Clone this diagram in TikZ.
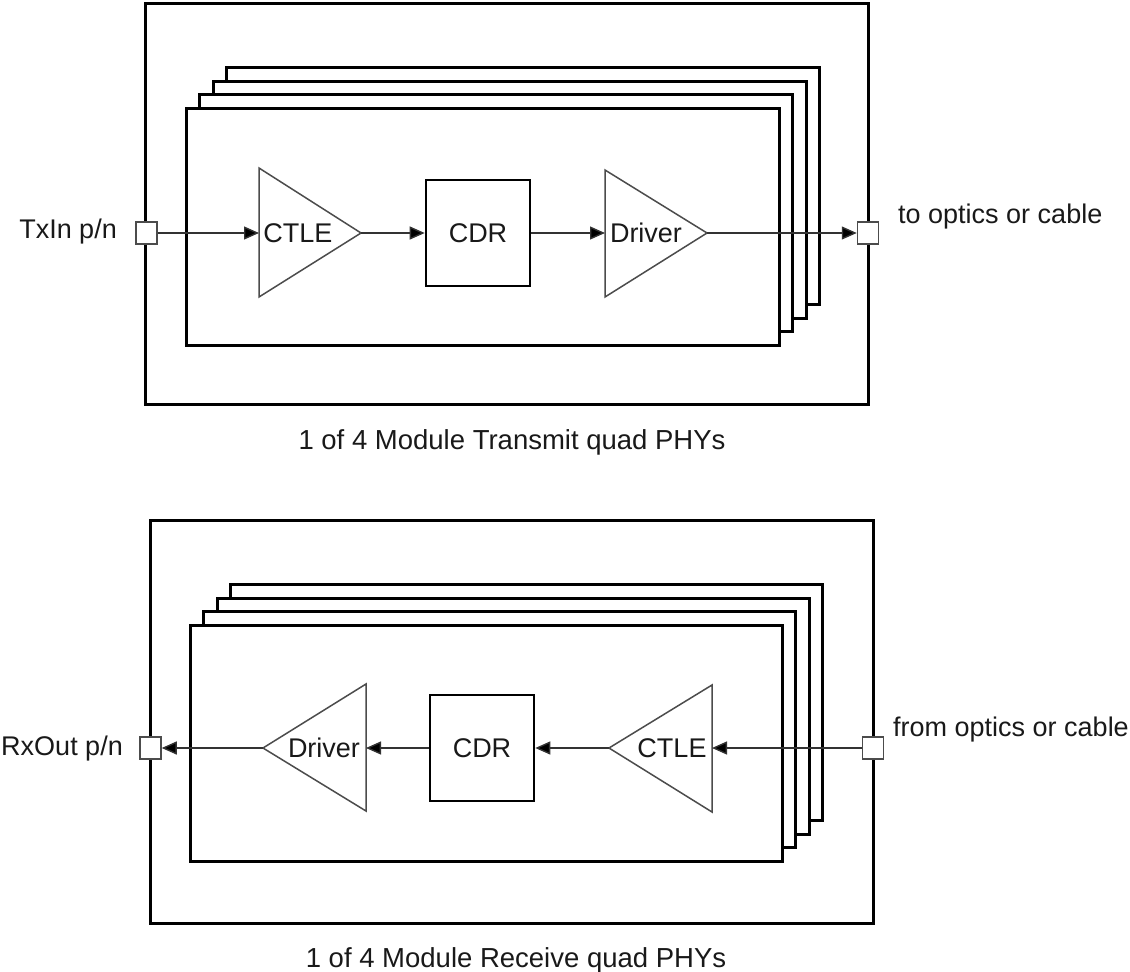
\documentclass[tikz,border=0pt]{standalone}
\usepackage{fontspec}
\setmainfont{Liberation Sans}
\usetikzlibrary{arrows.meta}
\begin{document}
\begin{tikzpicture}[x=1pt,y=-1pt,
  frame/.style={draw=black,line width=3pt,fill=white},
  tri/.style={draw=black!70,line width=1.5pt,fill=white,line join=miter},
  cdrbox/.style={draw=black,line width=2.6pt,fill=white,minimum width=104pt,minimum height=106pt,inner sep=0pt,font=\fontsize{27}{31}\selectfont,text=black!90},
  port/.style={draw=black!70,line width=1.5pt,fill=white,minimum width=21pt,minimum height=22pt,inner sep=0pt},
  lbl/.style={font=\fontsize{27}{31}\selectfont,text=black!90,inner sep=0pt},
  captxt/.style={font=\fontsize{27.5}{32}\selectfont,text=black!90,inner sep=0pt},
  sig/.style={draw=black!80,line width=1.4pt,-{Triangle[length=15pt,width=13pt,fill=black]}},
]
\useasboundingbox (0,0) rectangle (1130,972);

% ---------------- Transmit ----------------
\draw[frame] (145,3) rectangle (868,404);
\foreach \k in {3,2,1,0}
  \draw[frame] ({186+13.5*\k},{108-13.5*\k}) rectangle ({779+13.5*\k},{345-13.5*\k});

\draw[tri] (259,168) -- (361,233) -- (259,297) -- cycle;
\coordinate (tctlein) at (259,233);
\coordinate (tctleout) at (361,233);
\node[lbl] (tctlet) at (298,233) {CTLE};

\node[cdrbox] (tcdr) at (478,233) {CDR};

\draw[tri] (605,170) -- (707,233) -- (605,297) -- cycle;
\coordinate (tdrvin) at (605,233);
\coordinate (tdrvout) at (707,233);
\node[lbl] (tdrvt) at (646,233) {Driver};

\node[port] (tin) at (146.5,233) {};
\node[port] (tout) at (868,233) {};

\draw[sig] (tin.east) -- (tctlein);
\draw[sig] (tctleout) -- (tcdr.west);
\draw[sig] (tcdr.east) -- (tdrvin);
\draw[sig] (tdrvout) -- (tout.west);

\node[lbl,anchor=base east] (txin) at (117,238) {TxIn p/n};
\node[lbl,anchor=base west] (toopt) at (898,223) {to optics or cable};
\node[captxt,anchor=base] (tcap) at (512,449) {1 of 4 Module Transmit quad PHYs};

% ---------------- Receive ----------------
\draw[frame] (150,520) rectangle (873,923);
\foreach \k in {3,2,1,0}
  \draw[frame] ({190+13.5*\k},{625-13.5*\k}) rectangle ({782+13.5*\k},{861-13.5*\k});

\draw[tri] (366,684) -- (263,748) -- (366,811) -- cycle;
\coordinate (rdrvin) at (366,748);
\coordinate (rdrvout) at (263,748);
\node[lbl] (rdrvt) at (324,748) {Driver};

\node[cdrbox] (rcdr) at (482,748) {CDR};

\draw[tri] (712,685) -- (609,748) -- (712,812) -- cycle;
\coordinate (rctlein) at (712,748);
\coordinate (rctleout) at (609,748);
\node[lbl] (rctlet) at (672,748) {CTLE};

\node[port] (rout) at (150.5,748) {};
\node[port] (rin) at (873,748) {};

\draw[sig] (rin.west) -- (rctlein);
\draw[sig] (rctleout) -- (rcdr.east);
\draw[sig] (rcdr.west) -- (rdrvin);
\draw[sig] (rdrvout) -- (rout.east);

\node[lbl,anchor=base east] (rxout) at (123,755) {RxOut p/n};
\node[lbl,anchor=base west] (fromopt) at (893,736) {from optics or cable};
\node[captxt,anchor=base] (rcap) at (516,967) {1 of 4 Module Receive quad PHYs};
\end{tikzpicture}
\end{document}
